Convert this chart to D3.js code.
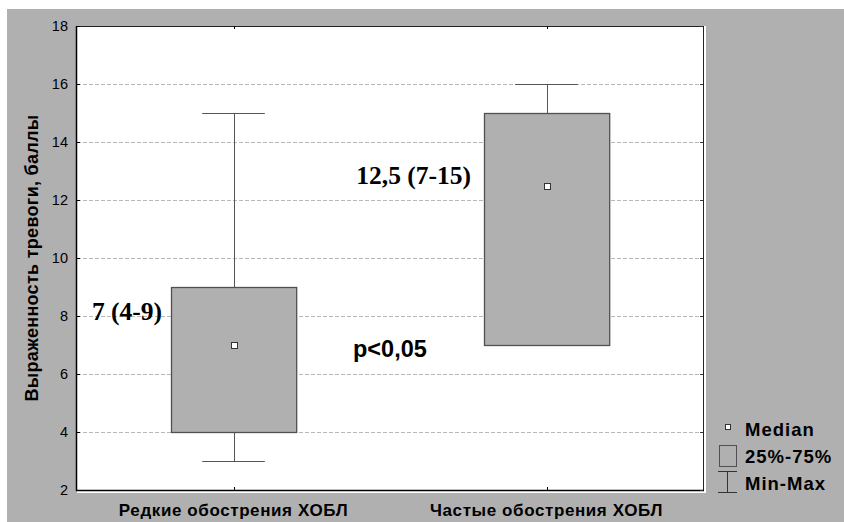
<!DOCTYPE html>
<html><head><meta charset="utf-8">
<script src="https://cdn.jsdelivr.net/npm/d3@7"></script>
<style>body{margin:0;background:#fff}svg{display:block}</style>
</head><body>
<script>
const categories = ["Редкие обострения ХОБЛ", "Частые обострения ХОБЛ"];
const mins    = [3, 7];
const q1s     = [4, 7];
const medians = [7, 12.5];
const q3s     = [9, 15];
const maxs    = [15, 16];
const annotations = ["7 (4-9)", "12,5 (7-15)"];
const yTicks = [2, 4, 6, 8, 10, 12, 14, 16, 18];
const yTitle = "Выраженность тревоги, баллы";
const pText = "p<0,05";
const legendItems = ["Median", "25%-75%", "Min-Max"];

const W = 844, H = 522;
const svg = d3.select("body").append("svg").attr("width", W).attr("height", H);
svg.append("rect").attr("x", 7).attr("y", 9).attr("width", W - 7).attr("height", H - 9).attr("fill", "#b0b0b0");

const L = 77, R = 703, T = 26, B = 490;
const x = d3.scaleBand().domain(categories).range([L, R]).paddingInner(0).paddingOuter(0);
const y = d3.scaleLinear().domain([2, 18]).range([B, T]);

// plot background with white offset border
svg.append("rect").attr("x", L).attr("y", T).attr("width", R - L + 3).attr("height", B - T + 3).attr("fill", "#fff");

// grid
svg.append("g").selectAll("line").data(yTicks.filter(d => d > 2 && d < 18)).join("line")
  .attr("x1", L).attr("x2", R).attr("y1", d => Math.round(y(d)) + 0.5).attr("y2", d => Math.round(y(d)) + 0.5)
  .attr("stroke", "#b8b8b8").attr("stroke-dasharray", "4,2").attr("stroke-width", 1);

const data = categories.map((c, i) => ({c, min: mins[i], q1: q1s[i], med: medians[i], q3: q3s[i], max: maxs[i]}));
const bw = x.bandwidth();
const boxW = bw * 0.4, capW = bw * 0.2;
const cx = d => x(d.c) + bw / 2;

const g = svg.append("g");
// whiskers
g.selectAll(".wu").data(data).join("line")
  .attr("x1", d => Math.round(cx(d)) + 0.5).attr("x2", d => Math.round(cx(d)) + 0.5)
  .attr("y1", d => y(d.q3)).attr("y2", d => y(d.max)).attr("stroke", "#555");
g.selectAll(".wl").data(data).join("line")
  .attr("x1", d => Math.round(cx(d)) + 0.5).attr("x2", d => Math.round(cx(d)) + 0.5)
  .attr("y1", d => y(d.q1)).attr("y2", d => y(d.min)).attr("stroke", "#555");
g.selectAll(".cu").data(data).join("line")
  .attr("x1", d => cx(d) - capW / 2).attr("x2", d => cx(d) + capW / 2)
  .attr("y1", d => Math.round(y(d.max)) + 0.5).attr("y2", d => Math.round(y(d.max)) + 0.5).attr("stroke", "#555");
g.selectAll(".cl").data(data).join("line")
  .attr("x1", d => cx(d) - capW / 2).attr("x2", d => cx(d) + capW / 2)
  .attr("y1", d => Math.round(y(d.min)) + 0.5).attr("y2", d => Math.round(y(d.min)) + 0.5).attr("stroke", "#555");
// boxes
g.selectAll(".box").data(data).join("rect")
  .attr("x", d => Math.round(cx(d) - boxW / 2) + 0.5).attr("y", d => Math.round(y(d.q3)) + 0.5)
  .attr("width", boxW).attr("height", d => y(d.q1) - y(d.q3))
  .attr("fill", "#b0b0b0").attr("stroke", "#505050").attr("stroke-width", 1.3);
// medians
g.selectAll(".med").data(data).join("rect")
  .attr("x", d => Math.round(cx(d)) - 2.5).attr("y", d => Math.round(y(d.med)) - 2.5)
  .attr("width", 6).attr("height", 6).attr("fill", "#fff").attr("stroke", "#333").attr("stroke-width", 1);

// frame
svg.append("line").attr("x1", L).attr("x2", R + 1).attr("y1", T + 0.5).attr("y2", T + 0.5).attr("stroke", "#222");
svg.append("line").attr("x1", R + 0.5).attr("x2", R + 0.5).attr("y1", T).attr("y2", B + 1).attr("stroke", "#222");
svg.append("line").attr("x1", L - 0.5).attr("x2", L - 0.5).attr("y1", T).attr("y2", B + 1).attr("stroke", "#000").attr("stroke-width", 1.5);
svg.append("line").attr("x1", L - 1).attr("x2", R + 1).attr("y1", B + 0.5).attr("y2", B + 0.5).attr("stroke", "#000").attr("stroke-width", 1.5);

// y axis
const yAxis = d3.axisLeft(y).tickValues(yTicks).tickSize(0).tickPadding(9).tickFormat(d3.format("d"));
const ya = svg.append("g").attr("transform", `translate(${L},0)`).call(yAxis);
ya.select(".domain").remove();
ya.selectAll("text").attr("font-family", "Arial, Liberation Sans, sans-serif").attr("font-size", 14.5).attr("fill", "#000");
// inward ticks left & right
svg.append("g").selectAll("line").data(yTicks).join("line")
  .attr("x1", L).attr("x2", L + 3).attr("y1", d => Math.round(y(d)) + 0.5).attr("y2", d => Math.round(y(d)) + 0.5).attr("stroke", "#000");
svg.append("g").selectAll("line").data(yTicks).join("line")
  .attr("x1", R - 3).attr("x2", R).attr("y1", d => Math.round(y(d)) + 0.5).attr("y2", d => Math.round(y(d)) + 0.5).attr("stroke", "#333");
// x ticks
svg.append("g").selectAll("line").data(categories).join("line")
  .attr("x1", d => Math.round(x(d) + bw / 2) + 0.5).attr("x2", d => Math.round(x(d) + bw / 2) + 0.5)
  .attr("y1", B - 3).attr("y2", B).attr("stroke", "#000");
svg.append("g").selectAll("line").data(categories).join("line")
  .attr("x1", d => Math.round(x(d) + bw / 2) + 0.5).attr("x2", d => Math.round(x(d) + bw / 2) + 0.5)
  .attr("y1", T).attr("y2", T + 3).attr("stroke", "#000");

// x labels
svg.append("g").selectAll("text").data(categories).join("text")
  .attr("x", d => x(d) + bw / 2).attr("y", 516).attr("text-anchor", "middle")
  .attr("font-family", "Arial, Liberation Sans, sans-serif").attr("font-weight", "bold").attr("font-size", 17)
  .attr("letter-spacing", 0.6).text(d => d);

// y title
svg.append("text").attr("transform", `translate(38,${(T + B) / 2}) rotate(-90)`).attr("text-anchor", "middle")
  .attr("font-family", "Arial, Liberation Sans, sans-serif").attr("font-weight", "bold").attr("font-size", 18)
  .attr("letter-spacing", 0.3).text(yTitle);

// annotations
const annX = [162, 471];
const annY = [320, 184];
svg.append("g").selectAll("text").data(annotations).join("text")
  .attr("x", (d, i) => annX[i]).attr("y", (d, i) => annY[i]).attr("text-anchor", "end")
  .attr("font-family", "Liberation Serif, Times New Roman, serif").attr("font-weight", "bold").attr("font-size", 25.5)
  .text(d => d);
svg.append("text").attr("x", 353).attr("y", 357)
  .attr("font-family", "Arial, Liberation Sans, sans-serif").attr("font-weight", "bold").attr("font-size", 23.5)
  .text(pText);

// legend
const lg = svg.append("g").attr("font-family", "Arial, Liberation Sans, sans-serif").attr("font-weight", "bold").attr("font-size", 18.5);
lg.append("rect").attr("x", 725.5).attr("y", 424.5).attr("width", 5).attr("height", 5).attr("fill", "#fff").attr("stroke", "#333");
lg.append("rect").attr("x", 719.5).attr("y", 445.5).attr("width", 17).attr("height", 21).attr("fill", "#b0b0b0").attr("stroke", "#505050");
lg.append("line").attr("x1", 718).attr("x2", 737).attr("y1", 471.5).attr("y2", 471.5).attr("stroke", "#333");
lg.append("line").attr("x1", 718).attr("x2", 737).attr("y1", 492.5).attr("y2", 492.5).attr("stroke", "#333");
lg.append("line").attr("x1", 727.5).attr("x2", 727.5).attr("y1", 471.5).attr("y2", 492.5).attr("stroke", "#333");
const legY = [436, 463, 490];
lg.selectAll("text.l").data(legendItems).join("text").attr("x", 745).attr("y", (d, i) => legY[i])
  .attr("letter-spacing", 1).text(d => d);
</script>
</body></html>
